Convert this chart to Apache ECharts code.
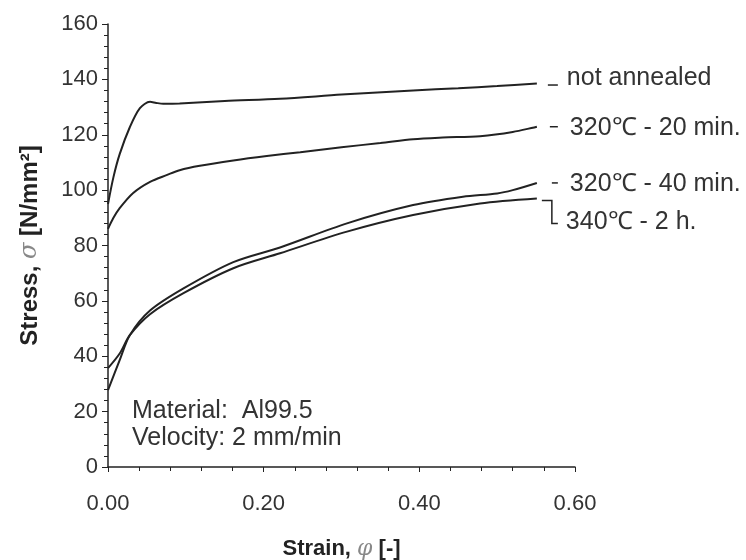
<!DOCTYPE html>
<html>
<head>
<meta charset="utf-8">
<script src="https://cdn.jsdelivr.net/npm/echarts@6/dist/echarts.min.js"></script>
<style>
  html, body { margin: 0; padding: 0; background: #fff; }
  #main { width: 746px; height: 560px; }
</style>
</head>
<body>
<div id="main"></div>
<script>
// strain / stress readings for each curve
var strainNA = [0, 0.007, 0.015, 0.028, 0.041, 0.054, 0.062, 0.071, 0.092, 0.15, 0.221, 0.3, 0.392, 0.45, 0.5, 0.551];
var stressNA = [95, 104.7, 113, 122.7, 129.6, 131.9, 131.5, 131.2, 131.3, 132.2, 133, 134.5, 136, 136.8, 137.6, 138.5];

var strain20 = [0, 0.007, 0.015, 0.032, 0.054, 0.076, 0.092, 0.118, 0.161, 0.204, 0.247, 0.3, 0.35, 0.392, 0.43, 0.478, 0.52, 0.551];
var stress20 = [86, 90, 93.5, 98.9, 103, 105.5, 107.2, 108.8, 110.7, 112.3, 113.7, 115.5, 117, 118.4, 119, 119.5, 121, 122.9];

var strain40 = [0, 0.015, 0.028, 0.054, 0.097, 0.161, 0.221, 0.307, 0.392, 0.456, 0.5, 0.52, 0.551];
var stress40 = [27.8, 38.6, 47.6, 56.5, 64.5, 74, 79.3, 88, 94.6, 97.6, 98.8, 100, 102.6];

var strain2h = [0, 0.015, 0.028, 0.054, 0.097, 0.161, 0.221, 0.307, 0.392, 0.478, 0.551];
var stress2h = [35.7, 41, 47.6, 55.2, 62.8, 71.8, 77.2, 85, 91, 95.2, 97];

var curveNames = ['not annealed', '320℃ - 20 min.', '320℃ - 40 min.', '340℃ - 2 h.'];

function pairs(xs, ys) {
  return xs.map(function (x, i) { return [x, ys[i]]; });
}

var chart = echarts.init(document.getElementById('main'));
var font = '"Liberation Sans", Arial, sans-serif';
var ink = '#222';

function lineSeries(name, xs, ys) {
  return {
    name: name,
    type: 'line',
    data: pairs(xs, ys),
    smooth: 0.3,
    showSymbol: false,
    silent: true,
    lineStyle: { color: ink, width: 2 }
  };
}

chart.setOption({
  backgroundColor: '#fff',
  animation: false,
  grid: { left: 108, right: 171, top: 24, bottom: 93, outerBoundsMode: 'none', containLabel: false },
  xAxis: {
    type: 'value', min: 0, max: 0.6, interval: 0.2,
    name: '{b|Strain, }{s|φ}{b| [-]}',
    nameLocation: 'middle', nameGap: 71,
    nameTextStyle: {
      rich: {
        b: { fontFamily: font, fontWeight: 'bold', fontSize: 22, color: ink },
        s: { fontFamily: '"DejaVu Serif", serif', fontStyle: 'italic', fontSize: 22, color: '#888' }
      }
    },
    axisLine: { lineStyle: { color: ink, width: 1.5 } },
    axisTick: { length: 5, lineStyle: { color: ink } },
    minorTick: { show: true, splitNumber: 5, length: 4, lineStyle: { color: ink } },
    splitLine: { show: false },
    axisLabel: {
      fontFamily: font, fontSize: 22, color: '#333', margin: 26,
      formatter: function (v) { return v.toFixed(2); }
    }
  },
  yAxis: {
    type: 'value', min: 0, max: 160, interval: 20,
    name: '{b|Stress, }{s|σ}{b| [N/mm²]}',
    nameLocation: 'middle', nameGap: 66, nameRotate: 90,
    nameTextStyle: {
      rich: {
        b: { fontFamily: font, fontWeight: 'bold', fontSize: 24, color: ink },
        s: { fontFamily: '"DejaVu Serif", serif', fontStyle: 'italic', fontSize: 24, color: '#888' }
      }
    },
    axisLine: { show: true, lineStyle: { color: ink, width: 1.5 } },
    axisTick: { length: 6, lineStyle: { color: ink } },
    minorTick: { show: true, splitNumber: 5, length: 4, lineStyle: { color: ink } },
    splitLine: { show: false },
    axisLabel: { fontFamily: font, fontSize: 22, color: '#333', margin: 10 }
  },
  series: [
    lineSeries(curveNames[0], strainNA, stressNA),
    lineSeries(curveNames[1], strain20, stress20),
    lineSeries(curveNames[2], strain40, stress40),
    lineSeries(curveNames[3], strain2h, stress2h)
  ]
});

// annotation leaders and labels, placed from each curve's last point
function endPx(xs, ys) {
  return chart.convertToPixel({ gridIndex: 0 }, [xs[xs.length - 1], ys[ys.length - 1]]);
}
var pNA = endPx(strainNA, stressNA);
var p20 = endPx(strain20, stress20);
var p40 = endPx(strain40, stress40);
var p2h = endPx(strain2h, stress2h);

var lbl = { fontFamily: font, fontSize: 25, fill: '#333', textVerticalAlign: 'middle' };
function txt(x, y, s) {
  return { type: 'text', x: x, y: y, silent: true, style: Object.assign({ text: s }, lbl) };
}
function seg(points) {
  return { type: 'polyline', silent: true, shape: { points: points }, style: { stroke: ink, lineWidth: 1.5, fill: null } };
}

chart.setOption({
  graphic: [
    seg([[pNA[0] + 11, pNA[1] + 1.5], [pNA[0] + 21, pNA[1] + 1.5]]),
    txt(pNA[0] + 30, pNA[1] - 5, curveNames[0]),
    seg([[p20[0] + 13, p20[1]], [p20[0] + 21, p20[1]]]),
    txt(p20[0] + 33, p20[1] + 1, curveNames[1]),
    seg([[p40[0] + 15, p40[1]], [p40[0] + 21, p40[1]]]),
    txt(p40[0] + 33, p40[1] + 1, curveNames[2]),
    seg([[p2h[0] + 5, p2h[1] + 2], [p2h[0] + 15, p2h[1] + 2], [p2h[0] + 15, p2h[1] + 25], [p2h[0] + 21, p2h[1] + 25]]),
    txt(p2h[0] + 29, p2h[1] + 24, curveNames[3]),
    txt(132, 411, 'Material:  Al99.5'),
    txt(132, 438, 'Velocity: 2 mm/min')
  ]
});
</script>
</body>
</html>
